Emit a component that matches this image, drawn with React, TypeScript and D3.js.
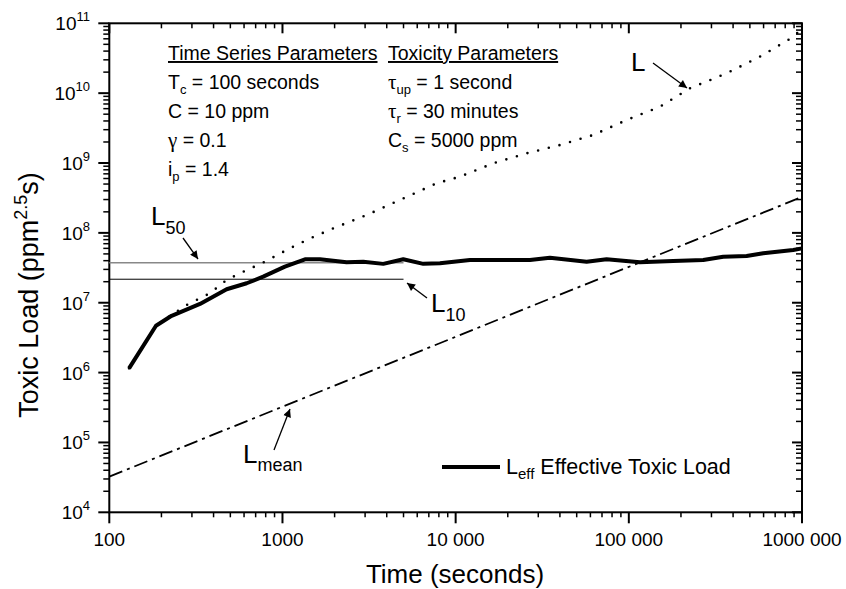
import React from 'react';
import * as d3 from 'd3';

const W = 846;
const H = 589;
const FONT = '"Liberation Sans", Arial, Helvetica, sans-serif';
const SYM = '"Liberation Serif", "Times New Roman", serif';

// axis ticks
const xTickValues = [100, 1000, 10000, 100000, 1000000];
const xTickLabels = ['100', '1000', '10 000', '100 000', '1000 000'];
const yExponents = [4, 5, 6, 7, 8, 9, 10, 11];

// L_eff effective toxic load (thick solid)
const effTime = [130, 186, 229, 334, 476, 621, 774, 1033, 1349, 1646, 2346, 2928, 3820, 4984, 6506, 8118, 12090, 26850, 35030, 57060, 74420, 115900, 180500, 268900, 350800, 478800, 597000, 889800, 1000000];
const effLoad = [1.15e6, 4.69e6, 6.5e6, 9.6e6, 1.56e7, 1.9e7, 2.36e7, 3.28e7, 4.19e7, 4.19e7, 3.8e7, 3.85e7, 3.6e7, 4.2e7, 3.6e7, 3.67e7, 4.09e7, 4.09e7, 4.41e7, 3.87e7, 4.19e7, 3.79e7, 3.96e7, 4.09e7, 4.56e7, 4.67e7, 5.1e7, 5.69e7, 6.0e7];

// L toxic load (dotted)
const lTime = [130, 186, 229, 280, 381, 476, 594, 793, 1057, 1379, 1965, 3063, 4769, 7768, 10588, 16490, 25700, 40020, 62310, 97120, 151200, 225300, 367000, 571400, 832500, 985000];
const lLoad = [1.15e6, 4.69e6, 6.68e6, 9.28e6, 1.365e7, 2.12e7, 2.78e7, 3.87e7, 5.69e7, 7.91e7, 1.163e8, 1.8e8, 2.96e8, 5.13e8, 6.37e8, 9.91e8, 1.378e9, 1.81e9, 2.52e9, 4.13e9, 6.4e9, 1.173e10, 1.925e10, 3.33e10, 5.77e10, 8.0e10];

// L_mean (dash-dot)
const meanTime = [100, 1000000];
const meanLoad = [3.24e4, 3.27e8];

// thresholds
const thresholdTime = [100, 5000];
const l50Load = 3.74e7;
const l10Load = 2.17e7;

export default function App() {
  const x = d3.scaleLog().domain([100, 1e6]).range([109.3, 802]);
  const y = d3.scaleLog().domain([1e4, 1e11]).range([512.3, 23.3]);
  const line = d3
    .line<[number, number]>()
    .x((d) => x(d[0]))
    .y((d) => y(d[1]));

  const effPath = line(effTime.map((t, i) => [t, effLoad[i]]) as [number, number][]) || '';
  const lPath = line(lTime.map((t, i) => [t, lLoad[i]]) as [number, number][]) || '';
  const meanPath = line(meanTime.map((t, i) => [t, meanLoad[i]]) as [number, number][]) || '';

  const x0 = x.range()[0];
  const x1 = x.range()[1];
  const y0 = y.range()[0];
  const y1 = y.range()[1];

  const xMinor: number[] = [];
  for (let d = 2; d < 6; d++) for (let k = 2; k <= 9; k++) xMinor.push(k * Math.pow(10, d));
  const yMinor: number[] = [];
  for (let d = 4; d < 11; d++) for (let k = 2; k <= 9; k++) yMinor.push(k * Math.pow(10, d));

  const tickProps = { stroke: '#000', strokeWidth: 1.5 };

  return (
    <svg width={W} height={H} style={{ position: 'absolute', left: 0, top: 0, background: '#fff' }} fontFamily={FONT}>
      <defs>
        <marker id="arr" viewBox="0 0 10 10" refX="10" refY="5" markerWidth="11" markerHeight="8" markerUnits="userSpaceOnUse" orient="auto">
          <path d="M0,0 L10,5 L0,10 z" fill="#000" />
        </marker>
      </defs>
      <rect x={0} y={0} width={W} height={H} fill="#fff" />

      {/* minor ticks */}
      {xMinor.map((v) => (
        <g key={'xm' + v}>
          <line x1={x(v)} x2={x(v)} y1={y0} y2={y0 + 5} {...tickProps} />
          <line x1={x(v)} x2={x(v)} y1={y1} y2={y1 + 5} {...tickProps} />
        </g>
      ))}
      {xTickValues.map((v) => (
        <g key={'xM' + v}>
          <line x1={x(v)} x2={x(v)} y1={y0} y2={y0 + 11} stroke="#000" strokeWidth={2} />
          <line x1={x(v)} x2={x(v)} y1={y1} y2={y1 + 10} stroke="#000" strokeWidth={2} />
        </g>
      ))}
      {yMinor.map((v) => (
        <g key={'ym' + v}>
          <line x1={x0 - 6} x2={x0} y1={y(v)} y2={y(v)} {...tickProps} />
          <line x1={x1 - 6} x2={x1} y1={y(v)} y2={y(v)} {...tickProps} />
        </g>
      ))}
      {yExponents.map((e) => (
        <g key={'yM' + e}>
          <line x1={x0 - 11} x2={x0} y1={y(Math.pow(10, e))} y2={y(Math.pow(10, e))} stroke="#000" strokeWidth={2} />
          <line x1={x1 - 10} x2={x1} y1={y(Math.pow(10, e))} y2={y(Math.pow(10, e))} stroke="#000" strokeWidth={2} />
        </g>
      ))}

      {/* frame */}
      <rect x={x0} y={y1} width={x1 - x0} height={y0 - y1} fill="none" stroke="#000" strokeWidth={2} />

      {/* tick labels */}
      {xTickValues.map((v, i) => (
        <text key={'xl' + v} x={x(v)} y={546} textAnchor="middle" fontSize={19}>
          {xTickLabels[i]}
        </text>
      ))}
      {yExponents.map((e) => (
        <text key={'yl' + e} x={90} y={y(Math.pow(10, e)) + 7} textAnchor="end" fontSize={19}>
          10
          <tspan fontSize={13} dy={-9}>
            {e}
          </tspan>
        </text>
      ))}

      {/* axis titles */}
      <text x={455} y={583} textAnchor="middle" fontSize={26}>
        Time (seconds)
      </text>
      <text transform="translate(38,295) rotate(-90)" textAnchor="middle" fontSize={27}>
        Toxic Load (ppm
        <tspan fontSize={18} dy={-11}>2.5</tspan>
        <tspan dy={11}>s)</tspan>
      </text>

      {/* thresholds */}
      <line x1={x(thresholdTime[0])} x2={x(thresholdTime[1])} y1={y(l50Load)} y2={y(l50Load)} stroke="#888" strokeWidth={1.6} />
      <line x1={x(thresholdTime[0])} x2={x(thresholdTime[1])} y1={y(l10Load)} y2={y(l10Load)} stroke="#000" strokeWidth={1} />

      {/* series */}
      <path d={meanPath} fill="none" stroke="#000" strokeWidth={1.8} strokeDasharray="14,5,3,5" />
      <path d={lPath} fill="none" stroke="#000" strokeWidth={2.6} strokeDasharray="0,11" strokeLinecap="round" />
      <path d={effPath} fill="none" stroke="#000" strokeWidth={4} strokeLinejoin="round" />

      {/* parameter text */}
      <g fontSize={19.5}>
        <text x={168} y={60} textDecoration="underline">Time Series Parameters</text>
        <text x={168} y={89}>
          T<tspan fontSize={13} dy={5}>c</tspan>
          <tspan dy={-5}> = 100 seconds</tspan>
        </text>
        <text x={168} y={118}>C = 10 ppm</text>
        <text x={168} y={147}>
          <tspan fontFamily={SYM} fontSize={21}>γ</tspan> = 0.1
        </text>
        <text x={168} y={176}>
          i<tspan fontSize={13} dy={5}>p</tspan>
          <tspan dy={-5}> = 1.4</tspan>
        </text>
        <text x={388} y={60} textDecoration="underline">Toxicity Parameters</text>
        <text x={388} y={89}>
          <tspan fontFamily={SYM} fontSize={21}>τ</tspan>
          <tspan fontSize={13} dy={5}>up</tspan>
          <tspan dy={-5}> = 1 second</tspan>
        </text>
        <text x={388} y={118}>
          <tspan fontFamily={SYM} fontSize={21}>τ</tspan>
          <tspan fontSize={13} dy={5}>r</tspan>
          <tspan dy={-5}> = 30 minutes</tspan>
        </text>
        <text x={388} y={147}>
          C<tspan fontSize={13} dy={5}>s</tspan>
          <tspan dy={-5}> = 5000 ppm</tspan>
        </text>
      </g>

      {/* annotations */}
      <text x={151} y={225} fontSize={26}>
        L<tspan fontSize={18} dy={9}>50</tspan>
      </text>
      <line x1={183} y1={238} x2={198} y2={259} stroke="#000" strokeWidth={1.3} markerEnd="url(#arr)" />

      <text x={431} y={312} fontSize={26}>
        L<tspan fontSize={18} dy={9}>10</tspan>
      </text>
      <line x1={427} y1={298} x2={407} y2={283} stroke="#000" strokeWidth={1.3} markerEnd="url(#arr)" />

      <text x={631} y={71} fontSize={26}>L</text>
      <line x1={653} y1={63} x2={687} y2={88} stroke="#000" strokeWidth={1.3} markerEnd="url(#arr)" />

      <text x={243} y={463} fontSize={26}>
        L<tspan fontSize={18} dy={8}>mean</tspan>
      </text>
      <line x1={274} y1={450} x2={290} y2={409} stroke="#000" strokeWidth={1.3} markerEnd="url(#arr)" />

      {/* legend */}
      <line x1={442} x2={500} y1={467} y2={467} stroke="#000" strokeWidth={4} />
      <text x={506} y={474} fontSize={21.5}>
        L<tspan fontSize={15} dy={5}>eff</tspan>
        <tspan dy={-5}> Effective Toxic Load</tspan>
      </text>
    </svg>
  );
}
